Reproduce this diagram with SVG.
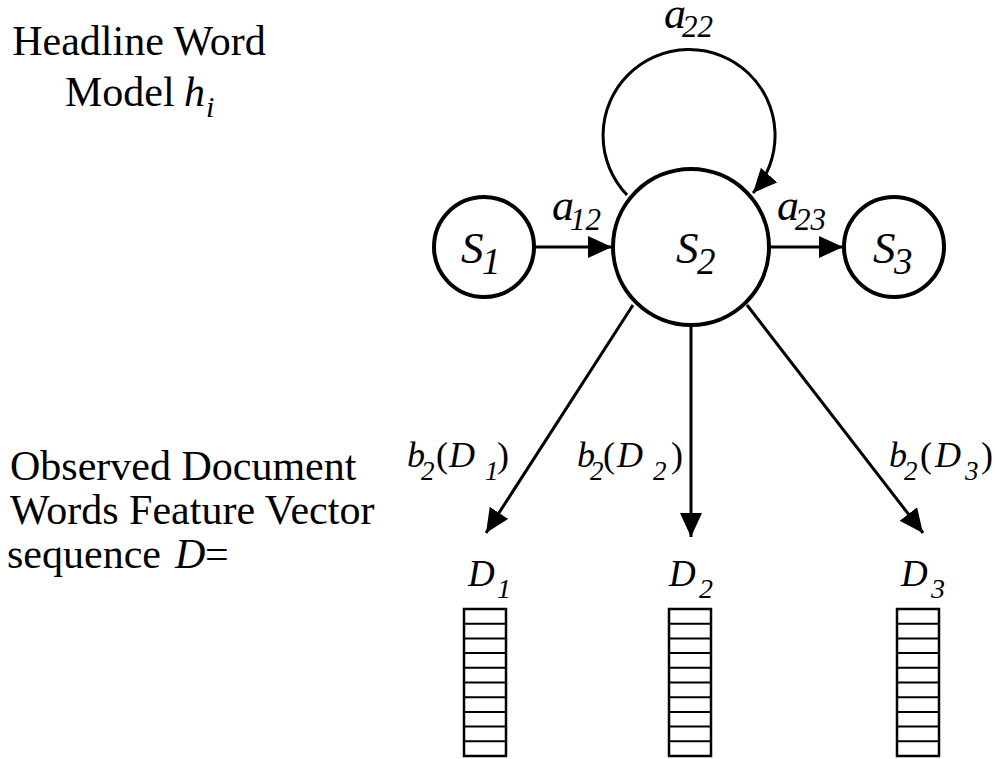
<svg xmlns="http://www.w3.org/2000/svg" width="995" height="759" viewBox="0 0 995 759">
<style>
text{font-family:"Liberation Serif","Times New Roman",serif;fill:#000}
.t{font-size:42px}
.m{font-size:45px;font-style:italic}
.ms{font-size:37px;font-style:italic}
.a{font-size:44px;font-style:italic}
.as{font-size:31px;font-style:italic}
.b{font-size:36px;font-style:italic}
.bs{font-size:27px;font-style:italic}
.bp{font-size:36px;font-style:normal}
.d{font-size:37px;font-style:italic}
.ds{font-size:28px;font-style:italic}
.node{fill:#fff;stroke:#000;stroke-width:4}
.edge{fill:none;stroke:#000;stroke-width:3}
.vec{fill:#fff;stroke:#000;stroke-width:2.5}
.cell{stroke:#000;stroke-width:2}
</style>
<defs>
<marker id="ah" viewBox="0 0 24 22" refX="24" refY="11" markerWidth="24" markerHeight="22" markerUnits="userSpaceOnUse" orient="auto">
<path d="M0,0 L24,11 L0,22 z" fill="#000"/>
</marker>
</defs>
<rect width="995" height="759" fill="#fff"/>

<g id="label-headline">
<text class="t" x="139" y="55" text-anchor="middle">Headline Word</text>
<text class="t" x="65" y="106">Model <tspan font-style="italic" x="184">h</tspan><tspan font-style="italic" font-size="30" x="206" y="117">i</tspan></text>
</g>

<g id="label-observed">
<text class="t" x="10" y="480">Observed Document</text>
<text class="t" x="10" y="524">Words Feature Vector</text>
<text class="t" x="7" y="568">sequence <tspan font-style="italic" x="175">D</tspan><tspan x="205">=</tspan></text>
</g>

<g id="connectors">
<path class="edge" d="M 627 195 A 86 86 0 1 1 753 193" marker-end="url(#ah)"/>
<line class="edge" x1="535" y1="247" x2="612" y2="247" marker-end="url(#ah)"/>
<line class="edge" x1="770" y1="247" x2="843" y2="247" marker-end="url(#ah)"/>
<line class="edge" x1="633" y1="305" x2="486" y2="533" marker-end="url(#ah)"/>
<line class="edge" x1="691" y1="326" x2="691" y2="537" marker-end="url(#ah)"/>
<line class="edge" x1="747" y1="305" x2="923" y2="533" marker-end="url(#ah)"/>
<text class="a" x="664" y="28">a<tspan class="as" x="682" y="37">22</tspan></text>
<text class="a" x="552" y="220">a<tspan class="as" x="570" y="230">12</tspan></text>
<text class="a" x="777" y="220">a<tspan class="as" x="795" y="230">23</tspan></text>
<text class="b" x="407" y="467">b<tspan class="bs" x="421" y="480">2</tspan><tspan class="bp" x="436" y="467">(</tspan><tspan x="449">D</tspan><tspan class="bs" x="485" y="480">1</tspan><tspan class="bp" x="497" y="467">)</tspan></text>
<text class="b" x="577" y="467">b<tspan class="bs" x="590" y="480">2</tspan><tspan class="bp" x="603" y="467">(</tspan><tspan x="617">D</tspan><tspan class="bs" x="653" y="480">2</tspan><tspan class="bp" x="671" y="467">)</tspan></text>
<text class="b" x="889" y="467">b<tspan class="bs" x="904" y="480">2</tspan><tspan class="bp" x="920" y="467">(</tspan><tspan x="935">D</tspan><tspan class="bs" x="965" y="480">3</tspan><tspan class="bp" x="981" y="467">)</tspan></text>
</g>

<g id="node-s1">
<circle class="node" cx="484" cy="247" r="50"/>
<text class="m" x="461" y="263">S<tspan class="ms" x="482" y="274">1</tspan></text>
</g>
<g id="node-s2">
<circle class="node" cx="691" cy="247" r="78"/>
<text class="m" x="676" y="263">S<tspan class="ms" x="697" y="274">2</tspan></text>
</g>
<g id="node-s3">
<circle class="node" cx="894" cy="247" r="50"/>
<text class="m" x="873" y="263">S<tspan class="ms" x="894" y="274">3</tspan></text>
</g>

<g id="node-d1">
<text class="d" x="468" y="586">D<tspan class="ds" x="497" y="598">1</tspan></text>
<rect class="vec" x="464" y="609" width="42" height="147"/>
<path class="cell" d="M464 623.7H506M464 638.4H506M464 653.1H506M464 667.8H506M464 682.5H506M464 697.2H506M464 711.9H506M464 726.6H506M464 741.3H506"/>
</g>
<g id="node-d2">
<text class="d" x="669" y="586">D<tspan class="ds" x="699" y="598">2</tspan></text>
<rect class="vec" x="669" y="609" width="42" height="147"/>
<path class="cell" d="M669 623.7H711M669 638.4H711M669 653.1H711M669 667.8H711M669 682.5H711M669 697.2H711M669 711.9H711M669 726.6H711M669 741.3H711"/>
</g>
<g id="node-d3">
<text class="d" x="901" y="586">D<tspan class="ds" x="931" y="598">3</tspan></text>
<rect class="vec" x="897" y="609" width="42" height="147"/>
<path class="cell" d="M897 623.7H939M897 638.4H939M897 653.1H939M897 667.8H939M897 682.5H939M897 697.2H939M897 711.9H939M897 726.6H939M897 741.3H939"/>
</g>
</svg>
